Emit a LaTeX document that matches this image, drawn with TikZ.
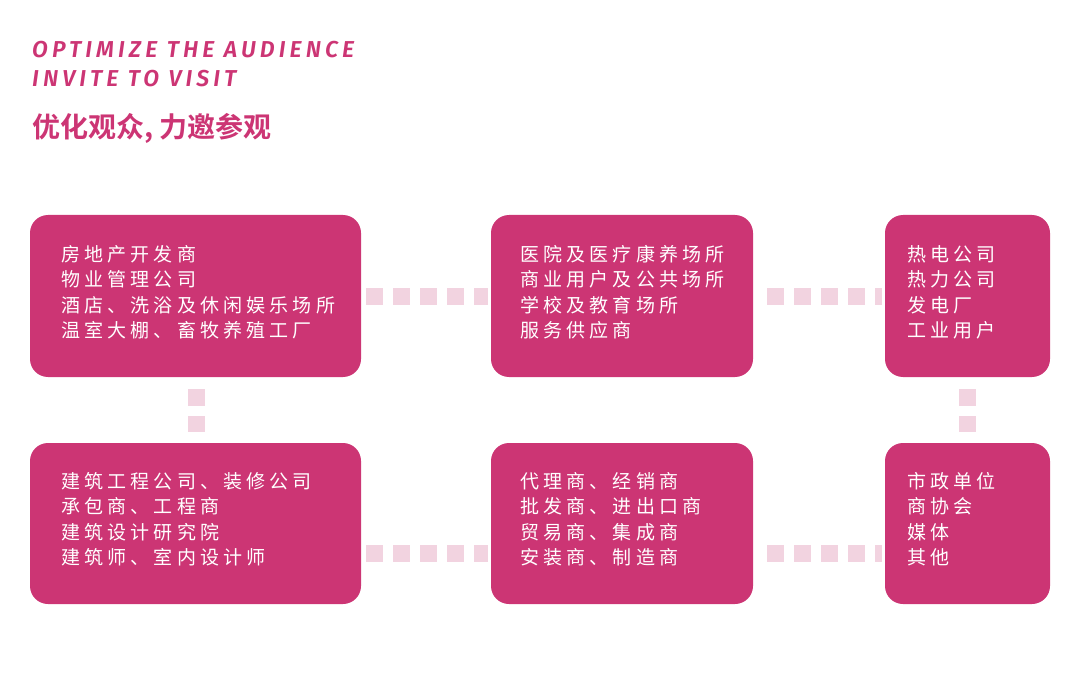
\documentclass[tikz,border=0pt]{standalone}
\usepackage{fontspec}
\setsansfont{Fira Sans}
\newfontfamily\cjk[LetterSpace=22]{Noto Sans CJK SC}
\newfontfamily\cjkb[FakeBold=0]{Noto Sans CJK SC Bold}
\newfontfamily\titlefont[LetterSpace=18]{Fira Sans SemiBold Italic}
\definecolor{rose}{HTML}{CC3574}
\definecolor{dotpink}{HTML}{F2D3E0}
\begin{document}
\begin{tikzpicture}[x=1pt,y=-1pt,
  card/.style={fill=rose,rounded corners=18pt,draw=none},
  cardtext/.style={anchor=north west,text=white,font=\cjk\fontsize{19}{25.5}\selectfont,align=left,inner sep=0pt},
  dots/.style={draw=dotpink,line width=17pt,dash pattern=on 17pt off 10pt}]
\useasboundingbox (0,0) rectangle (1080,682);
\node[anchor=west,inner sep=0pt,text=rose,font=\titlefont\fontsize{23}{23}\selectfont] (t1) at (32,50) {OPTIMIZE THE AUDIENCE};
\node[anchor=west,inner sep=0pt,text=rose,font=\titlefont\fontsize{23}{23}\selectfont] (t2) at (32,79) {INVITE TO VISIT};
\node[anchor=west,inner sep=0pt,text=rose,font=\cjkb\fontsize{28}{28}\selectfont] (t3) at (32,128) {优化观众, 力邀参观};
\draw[card] (30,215) rectangle (361,377);
\draw[card] (491,215) rectangle (753,377);
\draw[card] (885,215) rectangle (1050,377);
\draw[card] (30,443) rectangle (361,604);
\draw[card] (491,443) rectangle (753,604);
\draw[card] (885,443) rectangle (1050,604);
\coordinate (a1) at (366,296); \coordinate (b1) at (488,296);
\coordinate (a2) at (767,296); \coordinate (b2) at (882,296);
\coordinate (a3) at (366,553); \coordinate (b3) at (488,553);
\coordinate (a4) at (767,553); \coordinate (b4) at (882,553);
\coordinate (a5) at (196,389); \coordinate (b5) at (196,432);
\coordinate (a6) at (967,389); \coordinate (b6) at (967,432);
\draw[dots] (a1) -- (b1);
\draw[dots] (a2) -- (b2);
\draw[dots] (a3) -- (b3);
\draw[dots] (a4) -- (b4);
\draw[dots] (a5) -- (b5);
\draw[dots] (a6) -- (b6);
\node[cardtext] (ta) at (61,245) {房地产开发商\\物业管理公司\\酒店、洗浴及休闲娱乐场所\\温室大棚、畜牧养殖工厂};
\node[cardtext] (tb) at (520,245) {医院及医疗康养场所\\商业用户及公共场所\\学校及教育场所\\服务供应商};
\node[cardtext] (tc) at (907,245) {热电公司\\热力公司\\发电厂\\工业用户};
\node[cardtext] (td) at (61,472) {建筑工程公司、装修公司\\承包商、工程商\\建筑设计研究院\\建筑师、室内设计师};
\node[cardtext] (te) at (520,472) {代理商、经销商\\批发商、进出口商\\贸易商、集成商\\安装商、制造商};
\node[cardtext] (tf) at (907,472) {市政单位\\商协会\\媒体\\其他};
\end{tikzpicture}
\end{document}
